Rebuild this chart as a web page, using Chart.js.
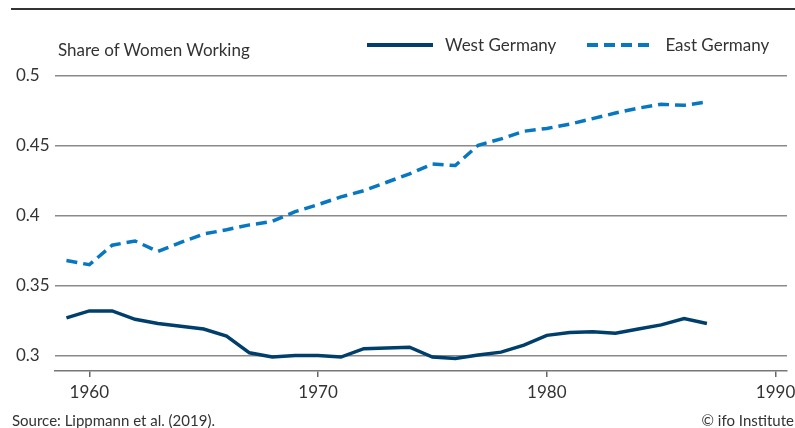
<!DOCTYPE html>
<html>
<head>
<meta charset="utf-8">
<script src="https://cdn.jsdelivr.net/npm/chart.js@4.4.1/dist/chart.umd.min.js"></script>
<style>
  body { margin: 0; background: #fff; font-family: Lato, sans-serif; color: #333; }
  #wrap { position: relative; width: 795px; height: 428px; overflow: hidden; }
  #topRule { position: absolute; left: 11px; top: 8px; width: 784px; height: 2px; background: #333; }
  #yTitle { position: absolute; left: 58px; top: 39px; font-size: 17px; }
  #legend { position: absolute; left: 367px; top: 34px; display: flex; font-size: 17px; white-space: nowrap; }
  .item { display: flex; align-items: center; margin-right: 31px; }
  .item svg { margin-right: 12px; flex: none; }
  #source { position: absolute; left: 12px; top: 411px; font-size: 15px; }
  #copy { position: absolute; right: 1px; top: 411px; font-size: 15px; }
  canvas { position: absolute; left: 0; top: 0; }
</style>
</head>
<body>
<div id="wrap">
  <div id="topRule"></div>
  <canvas id="chart" width="795" height="428"></canvas>
  <div id="yTitle">Share of Women Working</div>
  <div id="legend"></div>
  <div id="source">Source: Lippmann et al. (2019).</div>
  <div id="copy">© ifo Institute</div>
</div>
<script>
// years covered by the series
let years = [1959, 1960, 1961, 1962, 1963, 1964, 1965, 1966, 1967, 1968,
  1969, 1970, 1971, 1972, 1973, 1974, 1975, 1976, 1977, 1978,
  1979, 1980, 1981, 1982, 1983, 1984, 1985, 1986, 1987];

let westGermany = [0.327, 0.332, 0.332, 0.326, 0.323, 0.321, 0.319, 0.314, 0.302, 0.299,
  0.300, 0.300, 0.299, 0.305, 0.3055, 0.306, 0.299, 0.298, 0.3005, 0.3025,
  0.3075, 0.3145, 0.3165, 0.317, 0.316, 0.319, 0.322, 0.3265, 0.323];

let eastGermany = [0.368, 0.365, 0.379, 0.382, 0.3745, 0.381, 0.387, 0.390, 0.3935, 0.396,
  0.403, 0.408, 0.4135, 0.418, 0.424, 0.430, 0.437, 0.436, 0.4505, 0.455,
  0.4605, 0.4625, 0.4655, 0.4695, 0.4735, 0.477, 0.4798, 0.479, 0.4815];

let xTicks = [1960, 1970, 1980, 1990];
let yTicks = [0.3, 0.35, 0.4, 0.45, 0.5];

function toPoints(values) {
  return values.map((v, i) => ({ x: years[i], y: v }));
}

const textColor = '#333';
const font = { family: 'Lato', size: 17 };

const ctx = document.getElementById('chart').getContext('2d');
let chart = new Chart(ctx, {
  type: 'line',
  data: {
    datasets: [{
      label: 'West Germany',
      data: toPoints(westGermany),
      borderColor: '#003f6c',
      backgroundColor: '#003f6c',
      borderWidth: 3.5,
      pointRadius: 0,
      tension: 0
    }, {
      label: 'East Germany',
      data: toPoints(eastGermany),
      borderColor: '#0677c0',
      backgroundColor: '#0677c0',
      borderWidth: 3.5,
      borderDash: [11, 6],
      pointRadius: 0,
      tension: 0
    }]
  },
  options: {
    responsive: false,
    animation: false,
    layout: { padding: { left: 16, right: 8, top: 76, bottom: 27 } },
    plugins: { legend: { display: false }, tooltip: { enabled: false } },
    scales: {
      x: {
        type: 'linear',
        min: 1958.5,
        max: 1990.5,
        afterBuildTicks: (scale) => { scale.ticks = xTicks.map(v => ({ value: v })); },
        afterFit: (scale) => {
          scale.height = 30;
          // the 1990 label may hang past the axis end, as in the original
          scale.paddingRight = 0;
          scale.paddingLeft = 0;
        },
        ticks: { color: textColor, font: font, padding: 5, maxRotation: 0, callback: (v) => String(v) },
        grid: { drawOnChartArea: false, drawTicks: true, tickLength: 6, color: '#666', lineWidth: 1.5 },
        border: { display: true, color: '#777', width: 1.5 }
      },
      y: {
        min: 0.289,
        max: 0.5,
        afterBuildTicks: (scale) => { scale.ticks = yTicks.map(v => ({ value: v })); },
        afterFit: (scale) => { scale.width = 39; },
        ticks: { color: textColor, font: font, crossAlign: 'far', callback: (v) => String(v) },
        grid: { drawTicks: false, color: '#8a8a8a', lineWidth: 1.5 },
        border: { display: false }
      }
    }
  }
});

// html legend built from the chart's own legend items
let legendBox = document.getElementById('legend');
chart.options.plugins.legend.labels.generateLabels(chart).forEach(item => {
  let div = document.createElement('div');
  div.className = 'item';
  let dash = (item.lineDash || []).join(' ');
  div.innerHTML = `<svg width="66" height="6"><line x1="0" y1="3" x2="66" y2="3" stroke="${item.strokeStyle}" stroke-width="4" stroke-dasharray="${dash}"/></svg><span>${item.text}</span>`;
  legendBox.appendChild(div);
});
</script>
</body>
</html>
